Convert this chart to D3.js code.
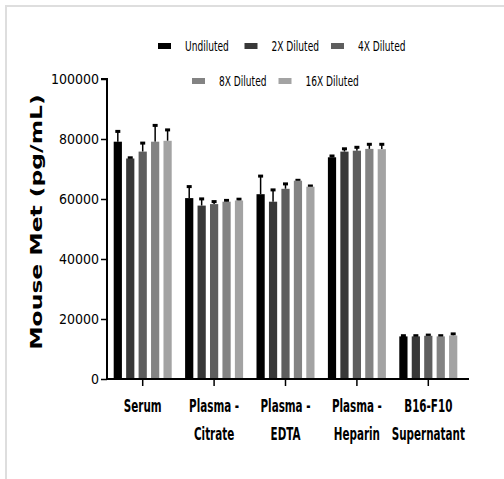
<!DOCTYPE html>
<html lang="en">
<head>
<meta charset="UTF-8">
<title>Mouse Met</title>
<script src="https://d3js.org/d3.v7.min.js"></script>
<style>
  body { margin: 0; background: #fff; }
  .frame { position: absolute; left: 5px; top: 5px; right: 0; bottom: 0;
           border-top: 2px solid #dedede; border-left: 2px solid #dedede; }
  svg { position: absolute; left: 0; top: 0; }
</style>
</head>
<body>
<div class="frame"></div>
<div id="chart"></div>
<script>
// sample groups and dilutions
var groups = [["Serum"], ["Plasma -", "Citrate"], ["Plasma -", "EDTA"], ["Plasma -", "Heparin"], ["B16-F10", "Supernatant"]]
var dilutions = ["Undiluted", "2X Diluted", "4X Diluted", "8X Diluted", "16X Diluted"]
var colors = ["#000000", "#383838", "#5e5e5e", "#838383", "#a3a3a3"]

// mean values, one array per group (order = dilutions)
var serum    = [79100, 73500, 75800, 79100, 79400]
var citrate  = [60300, 57800, 58300, 59100, 59500]
var edta     = [61600, 59100, 63400, 66100, 64100]
var heparin  = [73900, 75800, 76100, 76700, 76600]
var b16      = [14200, 14200, 14400, 14200, 14500]
// upper error (SD)
var serumErr   = [3600, 400, 3000, 5600, 3800]
var citrateErr = [4000, 2400, 1000, 600, 600]
var edtaErr    = [6200, 4100, 1800, 300, 400]
var heparinErr = [600, 1100, 1300, 1700, 1800]
var b16Err     = [400, 400, 400, 400, 700]

var yTicks = [0, 20000, 40000, 60000, 80000, 100000]

var means = [serum, citrate, edta, heparin, b16]
var errs = [serumErr, citrateErr, edtaErr, heparinErr, b16Err]

var w = 504, h = 479
var svg = d3.select("#chart").append("svg").attr("width", w).attr("height", h)

var x0 = d3.scaleBand().domain(d3.range(groups.length)).range([107, 464]).paddingInner(0).paddingOuter(0)
var x1 = d3.scaleBand().domain(d3.range(dilutions.length)).range([-29, 29]).paddingInner(0.34)
var y = d3.scaleLinear().domain([0, 100000]).range([379, 79])

// bars
groups.forEach(function(g, gi) {
  var cx = x0(gi) + x0.bandwidth() / 2
  var gg = svg.append("g").attr("transform", "translate(" + cx + ",0)")
  means[gi].forEach(function(v, di) {
    var bx = x1(di)
    var top = y(v + errs[gi][di])
    var mid = bx + x1.bandwidth() / 2
    gg.append("line")
      .attr("x1", mid).attr("x2", mid)
      .attr("y1", y(v)).attr("y2", top)
      .attr("stroke", "#000").attr("stroke-width", 1.5)
    gg.append("rect")
      .attr("x", mid - 2.5).attr("y", top - 1)
      .attr("width", 5).attr("height", 3)
      .attr("fill", "#000")
    gg.append("rect")
      .attr("x", bx).attr("y", y(v))
      .attr("width", x1.bandwidth()).attr("height", y(0) - y(v))
      .attr("fill", colors[di])
  })
})

// y axis
var yAxis = svg.append("g").attr("transform", "translate(107,0)")
  .call(d3.axisLeft(y).tickValues(yTicks).tickFormat(d3.format("d")).tickSize(6).tickPadding(2))
yAxis.select(".domain").attr("stroke-width", 2).attr("d", "M-6," + y(100000) + "H0V" + y(0))
yAxis.selectAll(".tick line").attr("stroke-width", 1.5)
yAxis.selectAll("text")
  .attr("font-family", "DejaVu Sans Condensed").attr("font-size", 14).attr("fill", "#000")

// x axis
var xAxis = svg.append("g").attr("transform", "translate(0,379)")
  .call(d3.axisBottom(x0).tickSize(7).tickFormat(""))
xAxis.select(".domain").attr("stroke-width", 2).attr("d", "M107,0H469")
xAxis.selectAll(".tick line").attr("stroke-width", 1.5)

// category labels (condensed look)
groups.forEach(function(g, gi) {
  var cx = x0(gi) + x0.bandwidth() / 2
  g.forEach(function(line, li) {
    svg.append("text")
      .attr("transform", "translate(" + cx + "," + (412 + li * 28) + ") scale(0.64,1)")
      .attr("text-anchor", "middle")
      .attr("font-family", "DejaVu Sans Condensed").attr("font-weight", "bold")
      .attr("font-size", 18).attr("fill", "#000")
      .text(line)
  })
})

// y title
svg.append("text")
  .attr("transform", "translate(42,222) rotate(-90) scale(1.42,1)")
  .attr("text-anchor", "middle")
  .attr("font-family", "DejaVu Sans").attr("font-weight", "bold")
  .attr("font-size", 16.5).attr("fill", "#000")
  .text("Mouse Met (pg/mL)")

// legend: 3 on first row, 2 on second
var legend = svg.append("g")
dilutions.forEach(function(d, i) {
  var row = i < 3 ? 0 : 1
  var col = row == 0 ? i : i - 3
  var lx = (row == 0 ? 158 : 192) + col * 86.5
  var ly = row == 0 ? 46 : 81
  legend.append("rect")
    .attr("x", lx).attr("y", ly - 3).attr("width", 13).attr("height", 6)
    .attr("fill", colors[i])
  legend.append("text")
    .attr("transform", "translate(" + (lx + 27) + "," + (ly + 5) + ") scale(0.72,1)")
    .attr("font-family", "DejaVu Sans Condensed").attr("font-size", 14).attr("fill", "#000")
    .text(d)
})
</script>
</body>
</html>
